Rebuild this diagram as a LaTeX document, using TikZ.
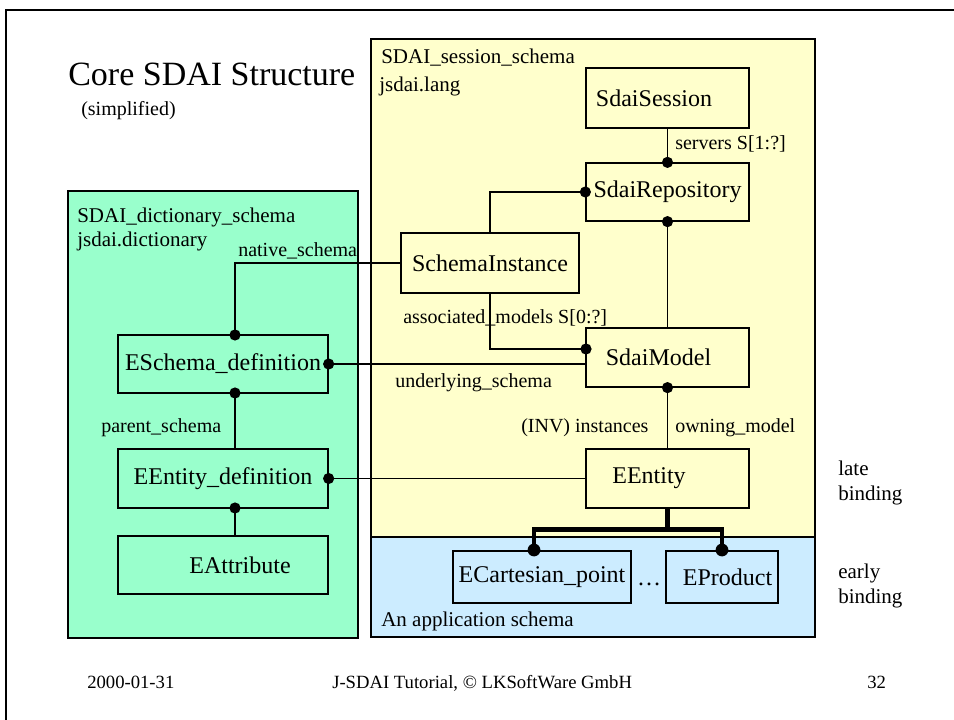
\documentclass[tikz,border=0pt]{standalone}
\usepackage{fontspec}
\setmainfont{Liberation Serif}
\newcommand{\pxl}{0.75pt}
\definecolor{sessfill}{HTML}{FFFFCC}
\definecolor{dictfill}{HTML}{99FFCC}
\definecolor{appfill}{HTML}{CCECFF}
\begin{document}
\begin{tikzpicture}[x=0.75pt,y=-0.75pt,
  region/.style={draw=black, line width=1pt},
  ent/.style={draw=black, line width=0.95pt, inner sep=0pt,
    font=\fontsize{18}{20}\selectfont},
  link/.style={draw=black, line width=0.9pt},
  tree/.style={draw=black, line width=3.2pt},
  dot/.style={fill=black},
  lbl/.style={font=\fontsize{15}{17}\selectfont, inner sep=0pt, anchor=base west},
  slbl/.style={font=\fontsize{15.75}{18}\selectfont, inner sep=0pt, anchor=base west},
  foot/.style={font=\fontsize{14}{16}\selectfont, inner sep=0pt, anchor=base west}
]
\useasboundingbox (0,0) rectangle (954,720);
\fill[white] (0,0) rectangle (954,720);

% slide frame
\draw[line width=1.6pt] (6,730) -- (6,10) -- (960,10);

% title
\node[font=\fontsize{25.5}{28}\selectfont, inner sep=0pt, anchor=base west] (title) at (68,86) {Core SDAI Structure};
\node[lbl] (simpl) at (81,116) {(simplified)};

% schema regions
\filldraw[region, fill=sessfill] (371,39) rectangle (815,537);
\filldraw[region, fill=appfill] (371,537) rectangle (815,637);
\filldraw[region, fill=dictfill] (68,191) rectangle (358,638);

\node[slbl] (sessname) at (381,64) {SDAI\_session\_schema};
\node[slbl] (sesspkg) at (379,92) {jsdai.lang};
\node[slbl] (dictname) at (77,223) {SDAI\_dictionary\_schema};
\node[slbl] (dictpkg) at (77,247) {jsdai.dictionary};
\node[slbl] (appname) at (381,626) {An application schema};

% entities of the session schema
\node[ent, fill=sessfill, minimum width=163*\pxl, minimum height=60*\pxl] (sess) at (667.5,98) {SdaiSession\hspace*{20.25pt}};
\node[ent, fill=sessfill, minimum width=163*\pxl, minimum height=58*\pxl] (repo) at (667.5,192) {SdaiRepository};
\node[ent, fill=sessfill, minimum width=178*\pxl, minimum height=60*\pxl] (si) at (490,263) {SchemaInstance};
\node[ent, fill=sessfill, minimum width=163*\pxl, minimum height=59*\pxl] (model) at (667.5,357.5) {SdaiModel\hspace*{13.5pt}};
\node[ent, fill=sessfill, minimum width=163*\pxl, minimum height=59*\pxl] (ee) at (667.5,478.5) {EEntity\hspace*{27.75pt}};

% entities of the dictionary schema
\node[ent, fill=dictfill, minimum width=210*\pxl, minimum height=58*\pxl] (es) at (223,364) {ESchema\_definition};
\node[ent, fill=dictfill, minimum width=210*\pxl, minimum height=59*\pxl] (ed) at (223,478.5) {EEntity\_definition};
\node[ent, fill=dictfill, minimum width=210*\pxl, minimum height=58*\pxl] (ea) at (223,565) {\hspace*{25.5pt}EAttribute};

% entities of the application schema
\node[ent, fill=appfill, minimum width=178*\pxl, minimum height=52*\pxl] (cp) at (542,577) {ECartesian\_point};
\node[ent, fill=appfill, minimum width=112*\pxl, minimum height=52*\pxl] (ep) at (722,577) {\hspace*{8.25pt}EProduct};
\node[font=\fontsize{18}{20}\selectfont, inner sep=0pt, anchor=base] (more) at (649,585) {…};

% attachment points
\coordinate (mIn) at (586,349);
\coordinate (esTop) at (235,335);
\coordinate (esBot) at (235,393);
\coordinate (edTop) at (235,449);
\coordinate (edBot) at (235,508);
\coordinate (eaTop) at (235,536);
\coordinate (cpTop) at (534,550);
\coordinate (epTop) at (722,550);

% session schema relations
\draw[link] (sess.south) -- (repo.north);
\fill[dot] (repo.north) circle (4.2pt);
\draw[link] (repo.west) -| (si.north);
\fill[dot] (repo.west) circle (4.2pt);
\draw[link] (repo.south) -- (model.north);
\fill[dot] (repo.south) circle (4.2pt);
\draw[link] (si.south) |- (mIn);
\fill[dot] (mIn) circle (4.2pt);
\draw[link] (model.south) -- (ee.north);
\fill[dot] (model.south) circle (4.2pt);

% relations into the dictionary
\draw[link] (si.west) -| (esTop);
\fill[dot] (esTop) circle (4.2pt);
\draw[link] (es.east) -- (es.east -| model.west);
\fill[dot] (es.east) circle (4.2pt);
\draw[link] (esBot) -- (edTop);
\fill[dot] (esBot) circle (4.2pt);
\draw[link] (ed.east) -- (ee.west);
\fill[dot] (ed.east) circle (4.2pt);
\draw[link] (edBot) -- (eaTop);
\fill[dot] (edBot) circle (4.2pt);

% early-binding subtypes
\draw[tree] (ee.south) -- ++(0,21);
\draw[tree, line join=miter] (cpTop) -- ++(0,-20.5) -| (epTop);
\fill[dot] (cpTop) circle (4.8pt);
\fill[dot] (epTop) circle (4.8pt);

% relation labels
\node[lbl] (lservers) at (675,150) {servers S[1:?]};
\node[lbl] (lnative) at (238,257) {native\_schema};
\node[lbl] (lassoc) at (403,324) {associated\_models S[0:?]};
\node[lbl] (lunder) at (395,388) {underlying\_schema};
\node[lbl] (linst) at (521,433) {(INV) instances};
\node[lbl] (lowner) at (675,433) {owning\_model};
\node[lbl] (lparent) at (101,433) {parent\_schema};

% binding notes
\node[slbl] (late1) at (838,475) {late};
\node[slbl] (late2) at (838,500) {binding};
\node[slbl] (early1) at (838,578) {early};
\node[slbl] (early2) at (838,603) {binding};

% footer
\node[foot] (fdate) at (87,688) {2000-01-31};
\node[foot] (ftitle) at (332,688) {J-SDAI Tutorial, © LKSoftWare GmbH};
\node[foot] (fpage) at (867,688) {32};
\end{tikzpicture}
\end{document}
